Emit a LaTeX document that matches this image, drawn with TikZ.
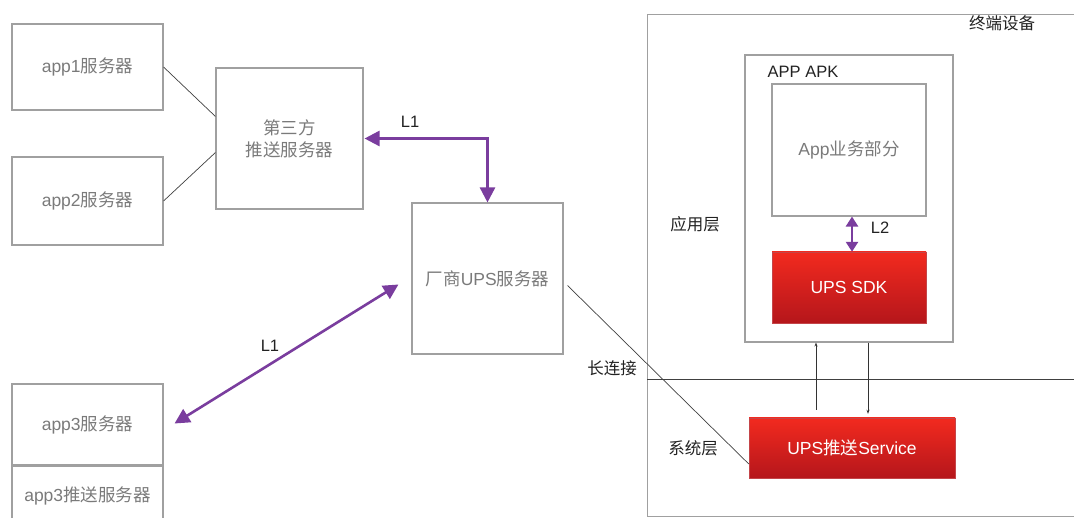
\documentclass[tikz,border=0pt]{standalone}
\usepackage{fontspec}
\setmainfont{Noto Sans CJK SC}
\newfontfamily\lat{Liberation Sans}
\usetikzlibrary{arrows.meta}
\definecolor{boxline}{HTML}{A0A0A0}
\definecolor{boxtext}{HTML}{7A7A7A}
\definecolor{lbl}{HTML}{222222}
\definecolor{purp}{HTML}{7A3D9E}
\definecolor{redtop}{HTML}{F22A1F}
\definecolor{redbot}{HTML}{B5161B}
\tikzset{
  box/.style={draw=boxline, line width=1.1pt, rectangle, inner sep=0pt, text=boxtext, font=\fontsize{17.5}{22}\selectfont, align=center},
  redbox/.style={rectangle, inner sep=0pt, top color=redtop, bottom color=redbot, draw=redbot!80, line width=0.4pt, text=white, font=\fontsize{17.5}{22}\selectfont},
  lab/.style={text=lbl, font=\fontsize{16.5}{20}\selectfont, inner sep=0pt},
  thin/.style={draw=black!75, line width=0.7pt},
  purparrow/.style={draw=purp, line width=2.6pt, {Triangle[length=15pt,width=15pt]}-{Triangle[length=15pt,width=15pt]}},
  smallarrow/.style={draw=black!80, line width=0.7pt, -{Stealth[length=4pt,width=3pt]}}
}
\begin{document}
\begin{tikzpicture}[x=1pt,y=-1pt]
\useasboundingbox (0,0) rectangle (1074,518);
\clip (0,0) rectangle (1074,518);
% left side
\node[box, minimum width=151pt, minimum height=86pt] (app1) at (87.5,67) {{\lat app1}服务器};
\node[box, minimum width=151pt, minimum height=88pt] (app2) at (87.5,201) {{\lat app2}服务器};
\node[box, minimum width=147pt, minimum height=141pt] (tp) at (289.5,138.5) {第三方\\推送服务器};
\node[box, minimum width=151pt, minimum height=81pt] (app3) at (87.5,424.5) {{\lat app3}服务器};
\node[box, minimum width=151pt, minimum height=70pt, anchor=north] (app3p) at (app3.south) {};
\node[text=boxtext, font=\fontsize{17.5}{22}\selectfont] (app3pt) at (87.5,496) {{\lat app3}推送服务器};
\node[box, minimum width=151pt, minimum height=151pt] (ups) at (487.5,278.5) {厂商{\lat UPS}服务器};
% terminal
\node[box, minimum width=460pt, minimum height=502pt, anchor=north west] (term) at (647,14) {};
\node[lab] (termlbl) at (1002,23) {终端设备};
\coordinate (divL) at (647,379);
\coordinate (divR) at (1080,379);
\node[box, minimum width=208pt, minimum height=287pt] (apk) at (849,198.5) {};
\node[lab] (apklbl) at (803,72) {\lat APP APK};
\node[box, minimum width=154pt, minimum height=132pt] (biz) at (849,150) {{\lat App}业务部分};
\node[redbox, minimum width=154pt, minimum height=71pt] (sdk) at (849,287.5) {\lat UPS SDK};
\node[redbox, minimum width=206pt, minimum height=60pt] (svc) at (852,448) {{\lat UPS}推送{\lat Service}};
\node[lab] (applayer) at (695,224) {应用层};
\node[lab] (syslayer) at (693,448) {系统层};
\node[lab] (longconn) at (612,368) {长连接};
\node[lab] (l1a) at (410,122) {\lat L1};
\node[lab] (l1b) at (270,346) {\lat L1};
\node[lab] (l2) at (880,228) {\lat L2};
% connectors
\draw[thin] (divL) -- (divR);
\draw[thin] (app1.east) -- ([yshift=22pt]tp.west);
\draw[thin] (app2.east) -- ([yshift=-14pt]tp.west);
\draw[purparrow] ([xshift=1pt]tp.east) -| (ups.north);
\draw[purparrow] ([xshift=11pt,yshift=1pt]app3.east) -- ([xshift=-13pt,yshift=-6pt]ups.west);
\draw[thin] ([xshift=4pt,yshift=-7pt]ups.east) -- ([yshift=-16pt]svc.west);
\draw[draw=purp, line width=2.6pt, {Triangle[length=10pt,width=12pt]}-{Triangle[length=10pt,width=12pt]}] (biz.south -| 852,0) -- (sdk.north -| 852,0);
\draw[smallarrow] ([xshift=-36pt,yshift=8pt]svc.north) -- ([xshift=-36pt]svc.north |- apk.south);
\draw[smallarrow] ([xshift=16pt]svc.north |- apk.south) -- ([xshift=16pt,yshift=4pt]svc.north);
\end{tikzpicture}
\end{document}
